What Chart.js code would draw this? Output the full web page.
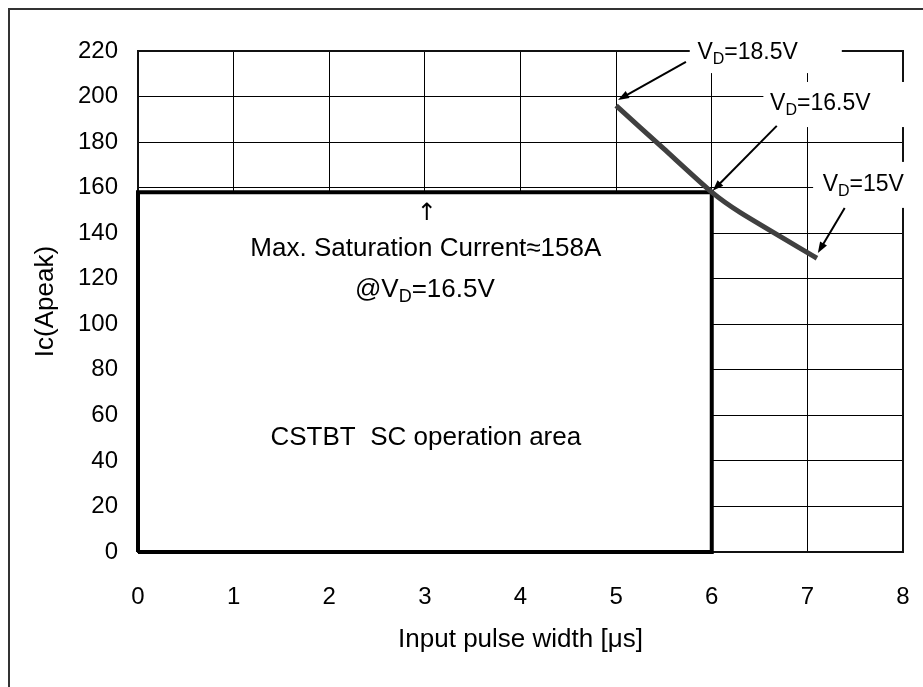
<!DOCTYPE html>
<html>
<head>
<meta charset="utf-8">
<script src="https://cdn.jsdelivr.net/npm/chart.js@4.4.0/dist/chart.umd.min.js"></script>
<style>
  html, body { margin: 0; padding: 0; background: #fff; }
</style>
</head>
<body>
<canvas id="soa" width="923" height="687"></canvas>
<script>
// axis ticks
const xTicks = [0, 1, 2, 3, 4, 5, 6, 7, 8];
const yTicks = [0, 20, 40, 60, 80, 100, 120, 140, 160, 180, 200, 220];

// SC limit curve (V_D = 18.5V -> 16.5V -> 15V)
const curveX = [5, 5.5, 6, 6.3, 7.1];
const curveY = [196, 177, 158, 149, 129];

// SC operation area: outline and top edge used for the white fill
const areaX = [0, 0, 6, 6, 0];
const areaY = [0, 158, 158, 0, 0];
const areaTopX = [0, 6];
const areaTopY = [158, 158];

const FONT = "'Liberation Sans', Arial, sans-serif";

function vdText(ctx, x, y, pre, rest, size, align) {
    const sub = Math.round(size * 0.68);
    ctx.font = size + 'px ' + FONT;
    const wP = ctx.measureText(pre).width;
    const wV = ctx.measureText('V').width;
    const wR = ctx.measureText(rest).width;
    ctx.font = sub + 'px ' + FONT;
    const wD = ctx.measureText('D').width;
    const x0 = align === 'center' ? x - (wP + wV + wD + wR) / 2 : x;
    ctx.textAlign = 'left';
    ctx.textBaseline = 'alphabetic';
    ctx.font = size + 'px ' + FONT;
    ctx.fillText(pre + 'V', x0, y);
    ctx.font = sub + 'px ' + FONT;
    ctx.fillText('D', x0 + wP + wV, y + size * 0.2);
    ctx.font = size + 'px ' + FONT;
    ctx.fillText(rest, x0 + wP + wV + wD, y);
}

function arrow(ctx, x1, y1, x2, y2) {
    const a = Math.atan2(y2 - y1, x2 - x1);
    const len = 11, half = 4;
    ctx.beginPath();
    ctx.moveTo(x1, y1);
    ctx.lineTo(x2 - Math.cos(a) * len * 0.8, y2 - Math.sin(a) * len * 0.8);
    ctx.lineWidth = 2;
    ctx.strokeStyle = '#000';
    ctx.stroke();
    ctx.beginPath();
    ctx.moveTo(x2, y2);
    ctx.lineTo(x2 - Math.cos(a) * len - Math.sin(a) * half, y2 - Math.sin(a) * len + Math.cos(a) * half);
    ctx.lineTo(x2 - Math.cos(a) * len + Math.sin(a) * half, y2 - Math.sin(a) * len - Math.cos(a) * half);
    ctx.closePath();
    ctx.fillStyle = '#000';
    ctx.fill();
}

// frame, label boxes, notes and arrows
const notes = {
    id: 'notes',
    beforeDraw(chart) {
        const ctx = chart.ctx;
        ctx.save();
        ctx.strokeStyle = '#333';
        ctx.lineWidth = 2;
        ctx.beginPath();
        ctx.moveTo(9, 700);
        ctx.lineTo(9, 9);
        ctx.lineTo(940, 9);
        ctx.stroke();
        ctx.restore();
    },
    beforeDatasetsDraw(chart) {
        const ctx = chart.ctx;
        const {left, top, right, bottom} = chart.chartArea;
        const sx = chart.scales.x, sy = chart.scales.y;
        const X = v => sx.getPixelForValue(v), Y = v => sy.getPixelForValue(v);
        ctx.save();
        ctx.strokeStyle = '#111';
        ctx.lineWidth = 2;
        ctx.strokeRect(left, top, right - left, bottom - top);
        // white boxes behind the V_D labels
        ctx.fillStyle = '#fff';
        ctx.fillRect(X(5.77), Y(232), X(7.36) - X(5.77), Y(210.3) - Y(232));
        ctx.fillRect(X(6.54), Y(206.4), X(8.3) - X(6.54), Y(186.6) - Y(206.4));
        ctx.fillRect(X(7.06), Y(171.3), X(8.3) - X(7.06), Y(151.1) - Y(171.3));
        ctx.restore();
    },
    afterDatasetsDraw(chart) {
        const ctx = chart.ctx;
        const sx = chart.scales.x, sy = chart.scales.y;
        const X = v => sx.getPixelForValue(v), Y = v => sy.getPixelForValue(v);
        ctx.save();
        ctx.fillStyle = '#000';
        vdText(ctx, X(5.85), Y(216.5), '', '=18.5V', 23, 'left');
        vdText(ctx, X(6.61), Y(194.1), '', '=16.5V', 23, 'left');
        vdText(ctx, X(7.16), Y(158.5), '', '=15V', 23, 'left');
        arrow(ctx, X(5.73), Y(215.2), X(5.02), Y(198.5));
        arrow(ctx, X(6.68), Y(187.1), X(6.01), Y(158.6));
        arrow(ctx, X(7.39), Y(151.1), X(7.11), Y(131.3));

        ctx.fillStyle = '#000';
        ctx.textAlign = 'center';
        ctx.textBaseline = 'alphabetic';
        ctx.font = "24px 'DejaVu Sans', sans-serif";
        ctx.fillText('\u2191', X(3.02), Y(146));
        ctx.font = '26px ' + FONT;
        ctx.fillText('Max. Saturation Current\u2248158A', X(3.01), Y(130));
        vdText(ctx, X(3.0), Y(112), '@', '=16.5V', 26, 'center');
        ctx.font = '26px ' + FONT;
        ctx.textAlign = 'center';
        ctx.fillText('CSTBT  SC operation area', X(3.01), Y(47));
        ctx.restore();
    }
};

const ctxSoa = document.getElementById('soa').getContext('2d');
new Chart(ctxSoa, {
    type: 'line',
    data: {
        datasets: [{
            label: 'V_D curve',
            data: curveX.map((x, i) => ({x: x, y: curveY[i]})),
            borderColor: '#404040',
            borderWidth: 5,
            pointRadius: 0,
            fill: false,
            tension: 0.2,
            order: 1
        }, {
            label: 'SC area outline',
            data: areaX.map((x, i) => ({x: x, y: areaY[i]})),
            borderColor: '#000',
            borderWidth: 4,
            borderJoinStyle: 'miter',
            pointRadius: 0,
            fill: false,
            tension: 0,
            clip: false,
            order: 2
        }, {
            label: 'SC area fill',
            data: areaTopX.map((x, i) => ({x: x, y: areaTopY[i]})),
            borderWidth: 0,
            borderColor: 'rgba(0,0,0,0)',
            backgroundColor: '#fff',
            pointRadius: 0,
            fill: 'origin',
            tension: 0,
            order: 3
        }]
    },
    options: {
        responsive: false,
        animation: false,
        layout: { padding: { top: 51, right: 20, left: 0, bottom: 0 } },
        plugins: {
            legend: { display: false },
            tooltip: { enabled: false }
        },
        scales: {
            x: {
                type: 'linear',
                min: xTicks[0],
                max: xTicks[xTicks.length - 1],
                afterFit(scale) {
                    scale.height = 135;
                    scale.paddingLeft = 0;
                    scale.paddingRight = 0;
                },
                afterBuildTicks(scale) { scale.ticks = xTicks.map(v => ({value: v})); },
                ticks: { color: '#000', padding: 31, font: { family: FONT, size: 24 } },
                grid: { color: '#000', lineWidth: 1, drawTicks: false },
                border: { color: '#222', width: 2 },
                title: {
                    display: true,
                    text: 'Input pulse width [\u03bcs]',
                    color: '#000',
                    font: { family: FONT, size: 26 },
                    padding: { bottom: 32 }
                }
            },
            y: {
                min: yTicks[0],
                max: yTicks[yTicks.length - 1],
                afterFit(scale) { scale.width = 138; },
                afterBuildTicks(scale) { scale.ticks = yTicks.map(v => ({value: v})); },
                ticks: { color: '#000', padding: 20, font: { family: FONT, size: 24 } },
                grid: { color: '#000', lineWidth: 1, drawTicks: false },
                border: { color: '#222', width: 2 },
                title: {
                    display: true,
                    text: 'Ic(Apeak)',
                    color: '#000',
                    font: { family: FONT, size: 26 },
                    padding: { top: 30 }
                }
            }
        }
    },
    plugins: [notes]
});
</script>
</body>
</html>
